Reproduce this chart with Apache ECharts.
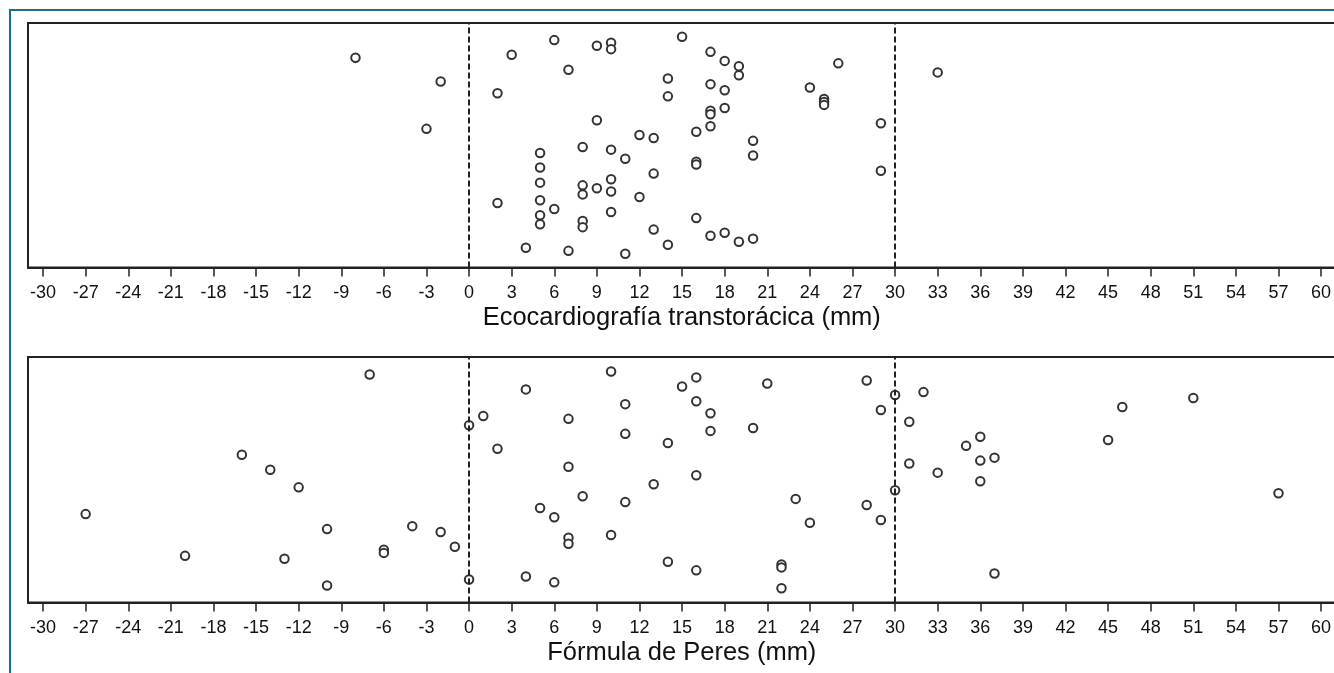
<!DOCTYPE html>
<html>
<head>
<meta charset="utf-8">
<script src="https://cdn.jsdelivr.net/npm/echarts@6/dist/echarts.min.js"></script>
<style>
  html, body { margin: 0; padding: 0; background: #fff; overflow: hidden; }
  #chart { position: absolute; left: 0; top: 0; width: 1334px; height: 673px; }
  #frame { position: absolute; left: 9px; top: 9px; width: 1400px; height: 700px;
           border-left: 2px solid #1b6f8d; border-top: 2px solid #1b6f8d; pointer-events: none; }
</style>
</head>
<body>
<div id="chart"></div>
<div id="frame"></div>
<script>
// tick labels shared by both panels
var ticks = [-30,-27,-24,-21,-18,-15,-12,-9,-6,-3,0,3,6,9,12,15,18,21,24,27,30,33,36,39,42,45,48,51,54,57,60];
var refLines = [0, 30];

// Ecocardiografía transtorácica: value (mm) and vertical jitter (0-100)
var ettX = [-8,-3,-2,2,3,6,7,9,10,10,15,17,18,19,19,14,14,17,18,18,17,17,17,16,26,24,25,25,25,29,29,33,
            9,12,13,20,20,16,16,5,5,5,5,5,5,8,10,11,13,10,8,9,8,10,12,2,6,10,8,8,16,13,17,18,19,20,14,4,7,11];
var ettJ = [85.8,56.7,76.1,71.3,87.0,93.0,80.9,90.7,91.9,89.3,94.4,88.2,84.5,82.3,78.6,77.3,70.0,75.0,72.5,65.2,64.1,62.7,57.8,55.5,83.5,73.6,68.9,67.7,66.5,59.0,39.6,79.8,
            60.2,54.2,53.0,51.8,45.8,43.3,42.1,46.8,40.9,34.7,27.5,21.4,17.7,49.3,48.2,44.5,38.4,36.1,33.6,32.4,29.9,31.1,28.8,26.4,23.9,22.7,19.0,16.5,20.2,15.5,13.0,14.2,10.5,11.8,9.3,8.1,6.8,5.6];

// Fórmula de Peres
var peresX = [-7,-16,-14,-12,-27,-10,-4,-2,-1,-6,-6,-20,-13,-10,0,0,1,2,4,4,5,6,6,7,7,7,7,8,10,10,11,11,11,13,14,14,
              15,16,16,16,16,17,17,20,21,22,22,22,23,24,28,28,29,29,30,30,32,31,31,33,35,36,36,36,37,37,45,46,51,57];
var peresJ = [92.9,60.2,54.1,46.9,36.0,29.9,31.1,28.7,22.7,21.5,20.2,19.0,17.8,6.9,72.2,9.4,76.0,62.6,86.8,10.6,38.5,34.7,8.2,74.8,55.3,26.4,23.9,43.3,94.1,27.5,80.8,68.7,40.9,48.2,65.0,16.6,
              88.0,91.7,82.0,51.8,13.1,77.1,69.9,71.1,89.2,15.5,14.3,5.8,42.2,32.5,90.4,39.7,78.4,33.6,84.5,45.7,85.7,73.6,56.6,52.9,63.8,67.5,57.8,49.4,59.0,11.8,66.2,79.6,83.3,44.5];

function pairs(xs, js) {
    return xs.map(function(x, i){ return [x, js[i]]; });
}

function makeX(idx, name){
    return {
        gridIndex: idx,
        type: 'value',
        min: -31.06,
        max: 62,
        name: name,
        nameLocation: 'middle',
        nameGap: 37,
        nameTextStyle: { fontSize: 25.5, color: '#111', fontFamily: 'Liberation Sans', padding: [0, 14, 0, 0] },
        axisLine: { show: true, onZero: false, lineStyle: { color: '#222', width: 2 } },
        axisTick: { show: true, customValues: ticks, length: 9, lineStyle: { color: '#222', width: 1.5 } },
        axisLabel: { customValues: ticks, fontSize: 18, color: '#111', margin: 17, fontFamily: 'Liberation Sans' },
        splitLine: { show: false }
    };
}

function makeY(idx){
    return { gridIndex: idx, type: 'value', min: 0, max: 100, show: false };
}

function makeSeries(idx, data){
    return {
        type: 'scatter',
        xAxisIndex: idx,
        yAxisIndex: idx,
        data: data,
        symbol: 'circle',
        symbolSize: 8.5,
        itemStyle: { color: '#fff', borderColor: '#333', borderWidth: 2, opacity: 1 },
        emphasis: { disabled: true },
        markLine: {
            silent: true,
            symbol: ['none', 'none'],
            label: { show: false },
            lineStyle: { type: [6, 3], color: '#222', width: 2 },
            data: refLines.map(function(v){ return { xAxis: v }; })
        },
        z: 3
    };
}

var chart = echarts.init(document.getElementById('chart'));

var option = {
    animation: false,
    backgroundColor: '#fff',
    grid: [
        { left: 28, top: 23, width: 1321.5, height: 244.5, show: true, borderColor: '#222', borderWidth: 2, outerBoundsMode: 'none', containLabel: false },
        { left: 28, top: 357, width: 1321.5, height: 245.5, show: true, borderColor: '#222', borderWidth: 2, outerBoundsMode: 'none', containLabel: false }
    ],
    xAxis: [
        makeX(0, 'Ecocardiografía transtorácica (mm)'),
        makeX(1, 'Fórmula de Peres (mm)')
    ],
    yAxis: [makeY(0), makeY(1)],
    series: [
        makeSeries(0, pairs(ettX, ettJ)),
        makeSeries(1, pairs(peresX, peresJ))
    ]
};

chart.setOption(option);

window.onresize = function(){
    chart.resize();
}
</script>
</body>
</html>
